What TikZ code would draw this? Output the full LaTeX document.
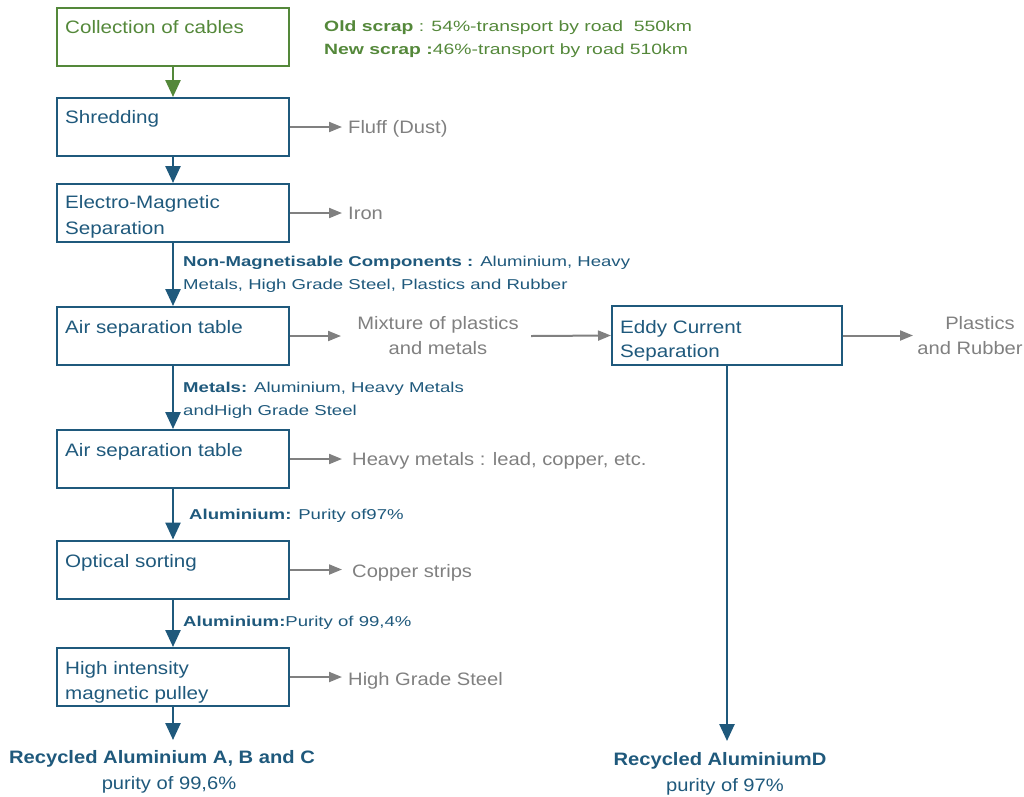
\documentclass[tikz,border=0pt]{standalone}
\usepackage{fontspec}
\setmainfont{Liberation Sans}[FakeStretch=1.12]
\newfontfamily\boxfont{Liberation Sans}[FakeStretch=1.145]
\newfontfamily\lblfont{Liberation Sans}[FakeStretch=1.3]
\newfontfamily\grfont{Liberation Sans}[FakeStretch=1.3]
\usetikzlibrary{arrows.meta}
\definecolor{dblue}{RGB}{31,89,124}
\definecolor{dgreen}{RGB}{84,136,58}
\definecolor{mgrey}{RGB}{128,128,128}
\tikzset{
  box/.style={draw=dblue, line width=2pt, minimum width=232pt, minimum height=58pt, inner sep=0pt},
  gbox/.style={box, draw=dgreen},
  btxt/.style={anchor=mid west, inner sep=0pt, text=dblue, font=\boxfont\fontsize{18}{22}\selectfont},
  gtxt/.style={anchor=mid west, inner sep=0pt, text=mgrey, font=\fontsize{18}{22}\selectfont},
  gctxt/.style={anchor=mid, inner sep=0pt, text=mgrey, font=\fontsize{18}{22}\selectfont},
  lbl/.style={anchor=mid west, inner sep=0pt, text=dblue, font=\lblfont\fontsize{14.3}{17}\selectfont},
  grl/.style={anchor=mid west, inner sep=0pt, text=dgreen, font=\grfont\fontsize{14.9}{17}\selectfont},
  fin/.style={anchor=mid, inner sep=0pt, text=dblue, font=\fontsize{18}{22}\selectfont},
  barrow/.style={draw=dblue, line width=2.5pt, -{Triangle[width=15pt,length=17pt]}},
  garrow/.style={draw=dgreen, line width=2.5pt, -{Triangle[width=15pt,length=17pt]}},
  sarrow/.style={draw=mgrey, line width=2pt, -{Triangle[width=10pt,length=13pt]}},
}
\begin{document}
\begin{tikzpicture}[x=1pt,y=-1pt]
\useasboundingbox (0,0) rectangle (1024,796);
% boxes
\node[gbox] (b1) at (173,37) {};
\node[box] (b2) at (173,127) {};
\node[box] (b3) at (173,213) {};
\node[box] (b4) at (173,336) {};
\node[box] (b5) at (173,459) {};
\node[box] (b6) at (173,569.5) {};
\node[box] (b7) at (173,677) {};
\node[box, minimum width=230pt, minimum height=59pt] (b8) at (727,335.5) {};
% box texts
\node[btxt, text=dgreen] (t1) at (65,31) {Collection of cables};
\node[btxt] (t2) at (65,121) {Shredding};
\node[btxt] (t3a) at (65,206) {Electro-Magnetic};
\node[btxt] (t3b) at (65,232) {Separation};
\node[btxt] (t4) at (65,331) {Air separation table};
\node[btxt] (t5) at (65,454) {Air separation table};
\node[btxt] (t6) at (65,565) {Optical sorting};
\node[btxt] (t7a) at (65,672) {High intensity};
\node[btxt] (t7b) at (65,697) {magnetic pulley};
\node[btxt] (t8a) at (620,331) {Eddy Current};
\node[btxt] (t8b) at (620,355) {Separation};
% top green labels
\node[grl] (g1) at (324,29) {\textbf{Old scrap} : 54\%-transport by road\ \ 550km};
\node[grl] (g2) at (324,52) {\textbf{New scrap :}46\%-transport by road 510km};
% side outputs
\node[gtxt] (o2) at (348,131) {Fluff (Dust)};
\node[gtxt] (o3) at (348,217) {Iron};
\node[gctxt] (o4a) at (438,327) {Mixture of plastics};
\node[gctxt] (o4b) at (438,352) {and metals};
\node[gctxt] (o8a) at (980,327) {Plastics};
\node[gctxt] (o8b) at (970,352) {and Rubber};
\node[gtxt] (o5) at (352,463) {Heavy metals : lead, copper, etc.};
\node[gtxt] (o6) at (352,575) {Copper strips};
\node[gtxt] (o7) at (348,683) {High Grade Steel};
\coordinate (m4) at (341,336);
\coordinate (m4r) at (531,336);
% flow labels
\node[lbl] (l1a) at (183,264) {\textbf{Non-Magnetisable Components :} Aluminium, Heavy};
\node[lbl] (l1b) at (183,287) {Metals, High Grade Steel, Plastics and Rubber};
\node[lbl] (l2a) at (183,390) {\textbf{Metals:} Aluminium, Heavy Metals};
\node[lbl] (l2b) at (183,413) {andHigh Grade Steel};
\node[lbl] (l3) at (189,517) {\textbf{Aluminium:} Purity of97\%};
\node[lbl] (l4) at (183,624) {\textbf{Aluminium:}Purity of 99,4\%};
% final outputs
\node[fin] (f1a) at (162,761) {\textbf{Recycled Aluminium A, B and C}};
\node[fin] (f1b) at (169,787) {purity of 99,6\%};
\node[fin] (f2a) at (720,763) {\textbf{Recycled AluminiumD}};
\node[fin] (f2b) at (725,789) {purity of 97\%};
\coordinate (e7) at (173,740);
\coordinate (e8) at (727,741);
% vertical arrows
\draw[garrow] (b1.south) -- (b2.north);
\draw[barrow] (b2.south) -- (b3.north);
\draw[barrow] (b3.south) -- (b4.north);
\draw[barrow] (b4.south) -- (b5.north);
\draw[barrow] (b5.south) -- (b6.north);
\draw[barrow] (b6.south) -- (b7.north);
\draw[barrow] (b7.south) -- (e7);
\draw[barrow] (b8.south) -- (e8);
% side arrows
\draw[sarrow] (b2.east) -- ++(52,0);
\draw[sarrow] (b3.east) -- ++(52,0);
\draw[sarrow] (b4.east) -- (m4);
\draw[sarrow] (m4r) -- (b8.west);
\draw[sarrow] (b8.east) -- ++(70,0);
\draw[sarrow] (b5.east) -- ++(52,0);
\draw[sarrow] (b6.east) -- ++(52,0);
\draw[sarrow] (b7.east) -- ++(52,0);
\end{tikzpicture}
\end{document}
